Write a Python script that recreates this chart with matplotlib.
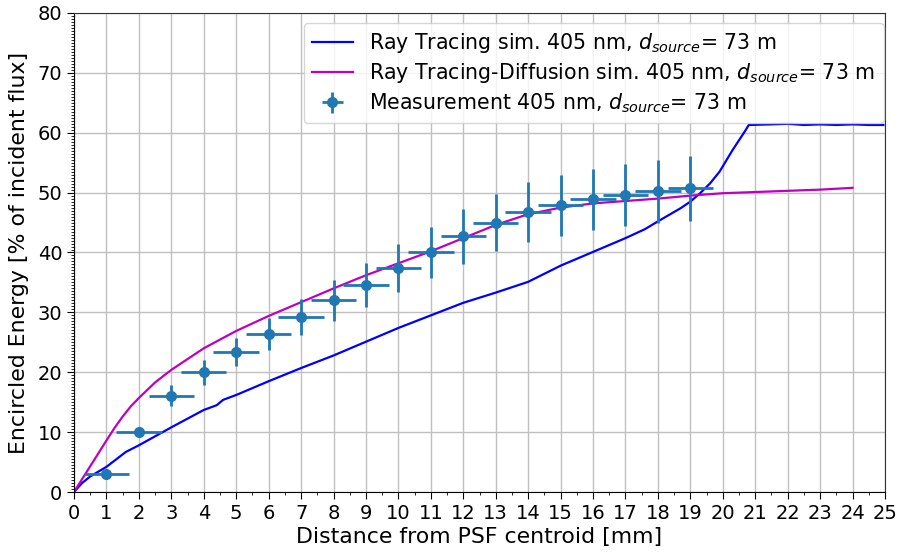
import matplotlib
matplotlib.use("Agg")
import matplotlib.pyplot as plt
from matplotlib.ticker import MultipleLocator

# Ray tracing simulation (blue)
rt_x = [0, 0.25, 0.5, 1.0, 1.6, 2.0, 3.0, 4.0, 4.4, 4.6, 5.0, 6.0, 7.0, 8.0, 9.0, 10.0,
        11.0, 12.0, 13.0, 14.0, 15.0, 16.0, 17.0, 17.6, 18.0, 18.7, 19.0, 19.3, 19.6,
        19.9, 20.3, 20.7, 20.8, 21.5, 22.0, 22.5, 23.0, 23.5, 24.0, 24.5, 24.95]
rt_y = [0, 1.5, 2.6, 4.2, 6.7, 7.8, 10.8, 13.7, 14.5, 15.4, 16.2, 18.5, 20.7, 22.8, 25.1, 27.4,
        29.5, 31.6, 33.3, 35.1, 37.8, 40.1, 42.4, 43.9, 45.2, 47.4, 48.5, 49.9, 51.5,
        53.5, 57.1, 60.4, 61.3, 61.4, 61.5, 61.3, 61.4, 61.3, 61.4, 61.3, 61.3]

# Ray tracing + diffusion simulation (magenta)
rtd_x = [0, 0.5, 1.0, 1.25, 1.5, 1.75, 2.0, 2.5, 3.0, 4.0, 5.0, 6.0, 7.0, 8.0, 9.0, 10.0,
         11.0, 12.0, 13.0, 14.0, 15.0, 16.0, 17.0, 18.0, 19.0, 20.0, 21.0, 22.0, 23.0, 24.0]
rtd_y = [0, 4.3, 8.6, 10.7, 12.6, 14.3, 15.7, 18.3, 20.4, 24.0, 26.9, 29.4, 31.7, 34.0,
         36.2, 38.2, 40.2, 42.4, 44.6, 46.4, 47.5, 48.2, 48.6, 49.0, 49.5, 49.9, 50.1,
         50.3, 50.5, 50.8]

# Measurement
meas_x = [1, 2, 3, 4, 5, 6, 7, 8, 9, 10, 11, 12, 13, 14, 15, 16, 17, 18, 19]
meas_y = [3.0, 10.1, 16.1, 20.0, 23.4, 26.4, 29.2, 32.0, 34.6, 37.4, 40.0, 42.7, 45.0,
          46.7, 47.9, 48.9, 49.6, 50.2, 50.7]
meas_yerr = [0.3, 0.4, 1.7, 2.1, 2.4, 2.7, 3.0, 3.4, 3.7, 4.0, 4.2, 4.6, 4.7, 5.0,
             5.1, 5.1, 5.2, 5.3, 5.4]
meas_xerr = [0.7] * len(meas_x)

labels = [r'Ray Tracing sim. 405 nm, $d_{source}$= 73 m',
          r'Ray Tracing-Diffusion sim. 405 nm, $d_{source}$= 73 m',
          r'Measurement 405 nm, $d_{source}$= 73 m']

fig = plt.figure(figsize=(9.09, 5.52), dpi=100)
ax = fig.add_axes([74/909, 1-492/552, (885-74)/909, (492-13)/552])

ax.plot(rt_x, rt_y, color='b', lw=1.6, label=labels[0])
ax.plot(rtd_x, rtd_y, color='m', lw=1.6, label=labels[1])
ax.errorbar(meas_x, meas_y, yerr=meas_yerr, xerr=meas_xerr, fmt='o', color='tab:blue',
            ms=7, elinewidth=2, capsize=0, label=labels[2])

ax.set_xlim(0, 25)
ax.set_ylim(0, 80)
ax.xaxis.set_major_locator(MultipleLocator(1))
ax.xaxis.set_minor_locator(MultipleLocator(0.5))
ax.yaxis.set_major_locator(MultipleLocator(10))
ax.yaxis.set_minor_locator(MultipleLocator(0.5))
ax.grid(True, which='major', color='#c0c0c0', lw=1)
ax.set_axisbelow(True)
ax.tick_params(axis='both', which='major', labelsize=14, length=5)
ax.tick_params(axis='both', which='minor', length=2.5)
ax.set_xlabel('Distance from PSF centroid [mm]', fontsize=15.8, labelpad=3)
ax.set_ylabel('Encircled Energy [% of incident flux]', fontsize=15.8, labelpad=6)
for s in ['top', 'right']:
    ax.spines[s].set_color('#333333')
ax.legend(loc='upper right', fontsize=14.8, framealpha=0.8, labelspacing=0.3,
          borderaxespad=0, bbox_to_anchor=(1 - 1.5/811, 1 - 10/479))

fig.savefig('out.png', dpi=100)
